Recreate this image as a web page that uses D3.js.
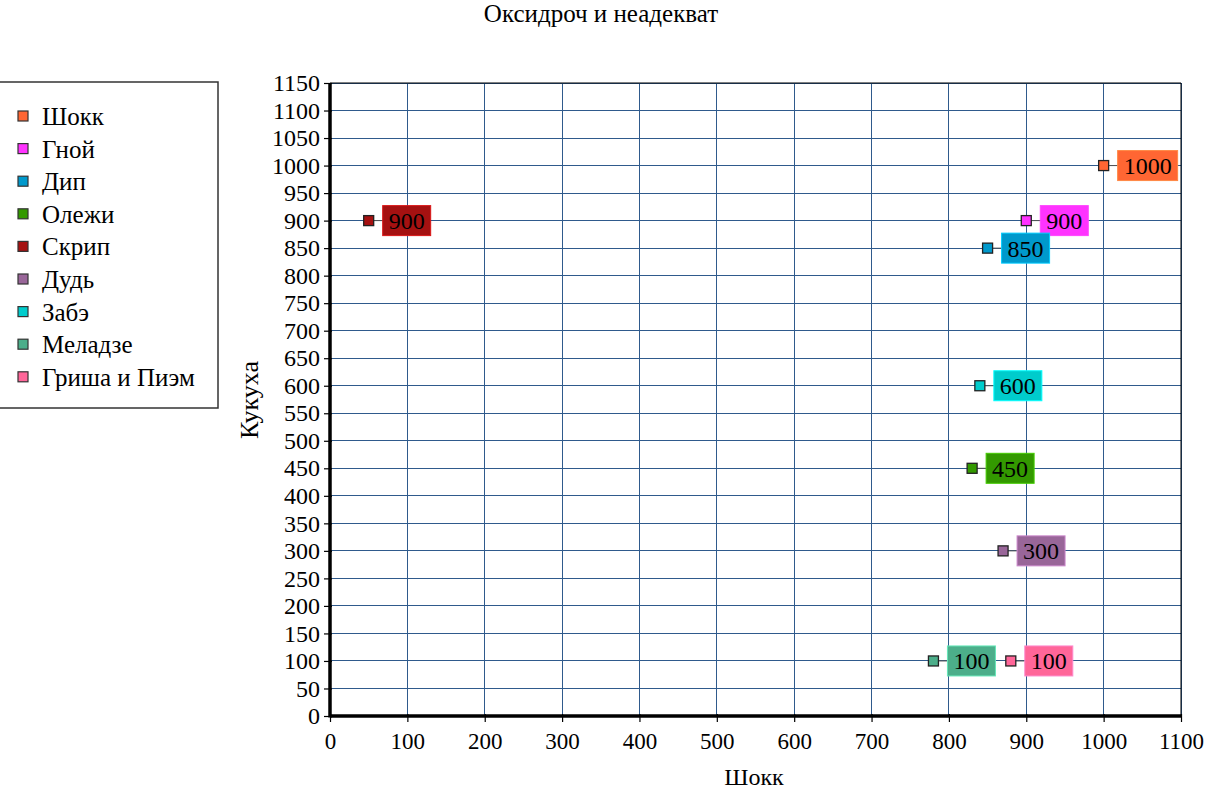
<!DOCTYPE html>
<html>
<head>
<meta charset="utf-8">
<script src="https://cdn.jsdelivr.net/npm/d3@7"></script>
<style>
  html, body { margin: 0; padding: 0; background: #fff; }
  svg { display: block; }
  svg text { font-family: "Liberation Serif", "DejaVu Serif", serif !important; }
</style>
</head>
<body>
<svg id="chart" width="1215" height="790"></svg>
<script>
const seriesNames = ["Шокк", "Гной", "Дип", "Олежи", "Скрип", "Дудь", "Забэ", "Меладзе", "Гриша и Пиэм"];
const xValues = [1000, 900, 850, 830, 50, 870, 840, 780, 880];
const yValues = [1000, 900, 850, 450, 900, 300, 600, 100, 100];
const seriesColors = ["#ff6633", "#ff33ff", "#0099cc", "#339900", "#a51111", "#996699", "#00cccc", "#4cae8a", "#ff6699"];
const xTicks = d3.range(0, 1101, 100);
const yTicks = d3.range(0, 1151, 50);
const chartTitle = "Оксидроч и неадекват";
const xTitle = "Шокк";
const yTitle = "Кукуха";

(function () {
const FONT = "'Liberation Serif', 'DejaVu Serif', serif";
const svg = d3.select("#chart");
const pL = 330, pR = 1181, pT = 83, pB = 716;
const x = d3.scaleLinear().domain([0, 1100]).range([pL, pR]);
const y = d3.scaleLinear().domain([0, 1150]).range([pB, pT]);

// grid
const grid = svg.append("g");
grid.selectAll("line.gx").data(xTicks.slice(1)).join("line")
  .attr("x1", d => x(d)).attr("x2", d => x(d)).attr("y1", pT).attr("y2", pB)
  .attr("stroke", "#2f5a8c").attr("stroke-width", 1).attr("shape-rendering", "crispEdges");
grid.selectAll("line.gy").data(yTicks.slice(1)).join("line")
  .attr("x1", pL).attr("x2", pR).attr("y1", d => y(d)).attr("y2", d => y(d))
  .attr("stroke", "#2f5a8c").attr("stroke-width", 1).attr("shape-rendering", "crispEdges");

// frame top/right
svg.append("line").attr("x1", pL).attr("x2", pR).attr("y1", pT).attr("y2", pT).attr("stroke", "#000").attr("stroke-width", 1);
svg.append("line").attr("x1", pR).attr("x2", pR).attr("y1", pT).attr("y2", pB).attr("stroke", "#000").attr("stroke-width", 1);

// axes
const xAxis = svg.append("g").attr("transform", `translate(0,${pB})`)
  .call(d3.axisBottom(x).tickValues(xTicks).tickSize(6).tickPadding(5).tickFormat(d3.format("d")));
const yAxis = svg.append("g").attr("transform", `translate(${pL},0)`)
  .call(d3.axisLeft(y).tickValues(yTicks).tickSize(6).tickPadding(4).tickFormat(d3.format("d")));
[xAxis, yAxis].forEach(a => {
  a.attr("font-family", FONT);
  a.select(".domain").remove();
  a.selectAll(".tick line").attr("stroke", "#000").attr("stroke-width", 1.2);
  a.selectAll(".tick text").attr("fill", "#000").style("font-family", FONT);
});
xAxis.selectAll(".tick text").style("font-size", "23px").attr("dy", "0.95em");
yAxis.selectAll(".tick text").style("font-size", "24px");
xAxis.selectAll(".tick line").attr("y1", -2);
yAxis.selectAll(".tick line").attr("x1", 2);
svg.append("line").attr("x1", pL).attr("x2", pR + 1).attr("y1", pB).attr("y2", pB).attr("stroke", "#000").attr("stroke-width", 3.5);
svg.append("line").attr("x1", pL).attr("x2", pL).attr("y1", pT).attr("y2", pB + 1.5).attr("stroke", "#000").attr("stroke-width", 3.5);

// points and labels
const pts = seriesNames.map((n, i) => ({ name: n, x: xValues[i], y: yValues[i], color: seriesColors[i] }));
const pg = svg.append("g");
pts.forEach(p => {
  const cx = x(p.x), cy = y(p.y);
  const g = pg.append("g");
  const txt = String(p.y);
  const tw = txt.length * 12;
  const bx = cx + 14, bw = tw + 12, bh = 30;
  g.append("line").attr("x1", cx).attr("x2", bx).attr("y1", cy).attr("y2", cy).attr("stroke", "#555").attr("stroke-width", 1);
  g.append("rect").attr("x", bx).attr("y", cy - bh / 2).attr("width", bw).attr("height", bh)
    .attr("fill", p.color).attr("stroke", d3.color(p.color).brighter(0.8)).attr("stroke-width", 1);
  g.append("text").attr("x", bx + bw / 2).attr("y", cy + 8.5).attr("text-anchor", "middle")
    .style("font-family", FONT).style("font-size", "24px").attr("fill", "#000").text(txt);
  g.append("rect").attr("x", cx - 5).attr("y", cy - 5).attr("width", 10).attr("height", 10)
    .attr("fill", p.color).attr("stroke", "#222").attr("stroke-width", 1.3);
});

// titles
svg.append("text").attr("x", 601).attr("y", 22).attr("text-anchor", "middle").style("font-family", FONT).style("font-size", "25px").text(chartTitle);
svg.append("text").attr("x", 754).attr("y", 785).attr("text-anchor", "middle").style("font-family", FONT).style("font-size", "24px").text(xTitle);
svg.append("text").attr("transform", "translate(258,400) rotate(-90)").attr("text-anchor", "middle").style("font-family", FONT).style("font-size", "26px").text(yTitle);

// legend
const lg = svg.append("g");
lg.append("rect").attr("x", -1).attr("y", 82).attr("width", 219).attr("height", 326).attr("fill", "#fff").attr("stroke", "#333").attr("stroke-width", 1.5);
seriesNames.forEach((n, i) => {
  const ry = 117 + i * 32.6;
  lg.append("rect").attr("x", 18).attr("y", ry - 6).attr("width", 10).attr("height", 10)
    .attr("fill", seriesColors[i]).attr("stroke", "#333").attr("stroke-width", 1.2);
  lg.append("text").attr("x", 42).attr("y", ry + 8).style("font-family", FONT).style("font-size", "25px").text(n);
});
})();
</script>
</body>
</html>
